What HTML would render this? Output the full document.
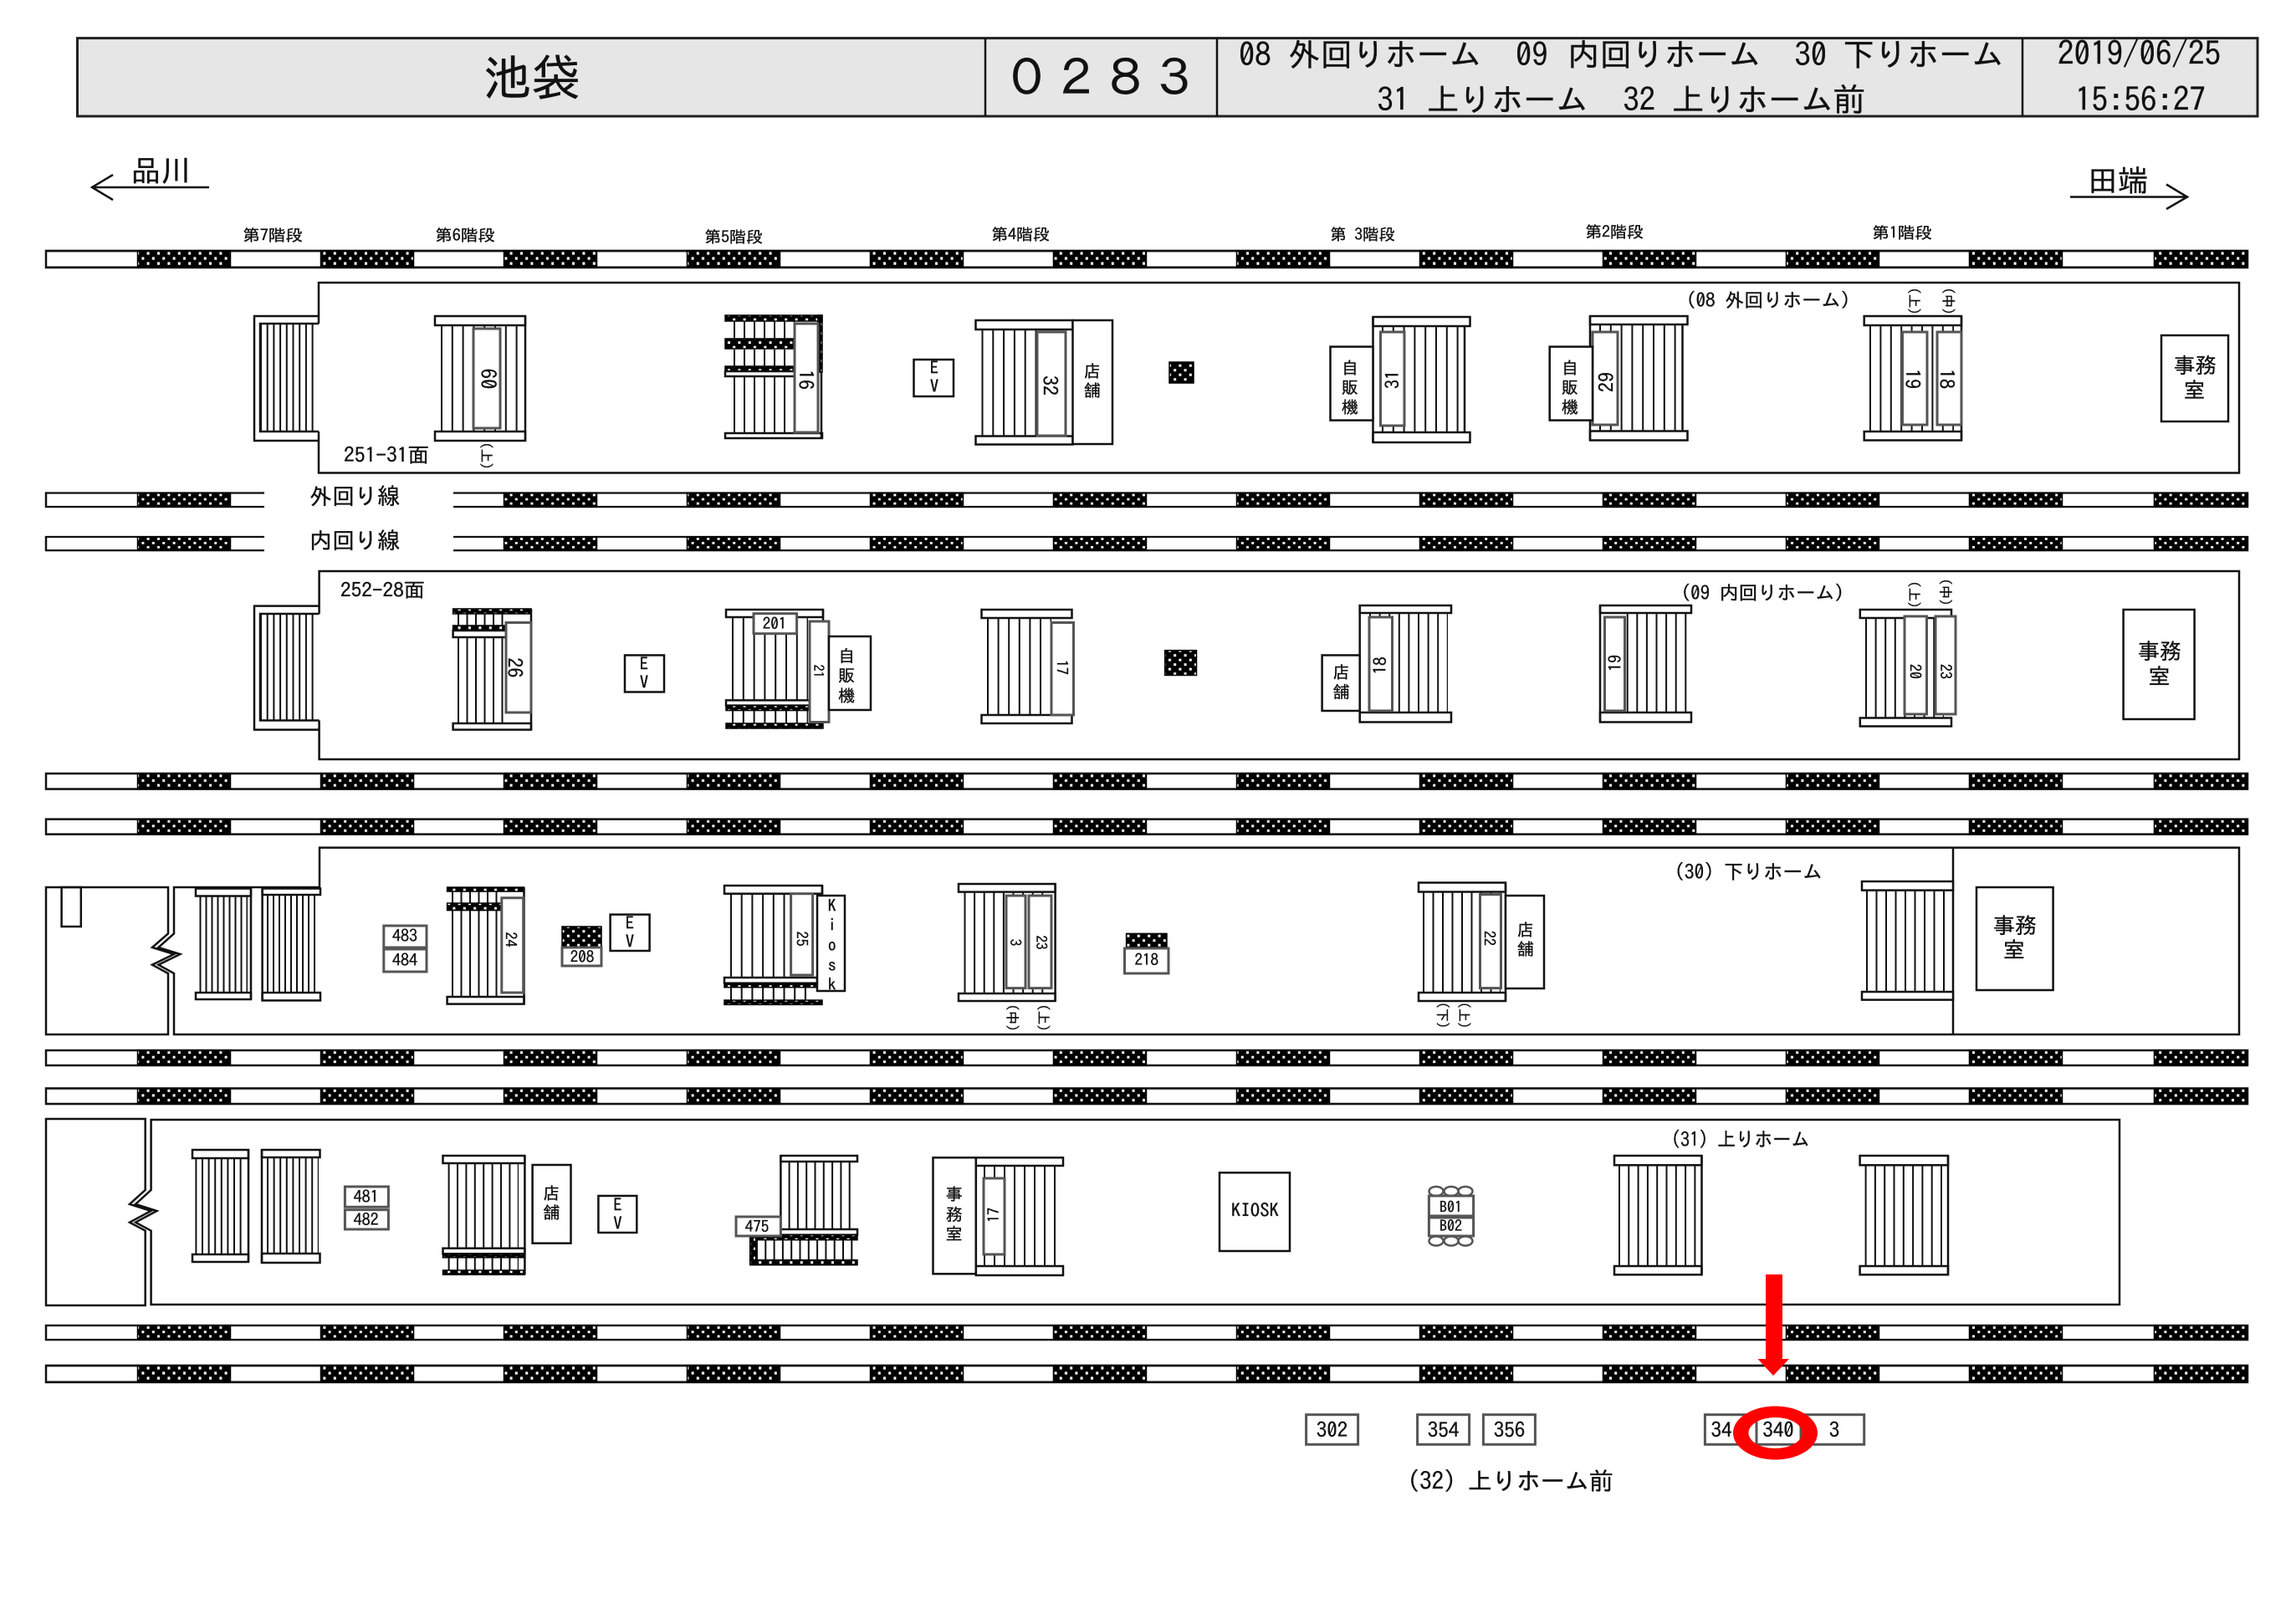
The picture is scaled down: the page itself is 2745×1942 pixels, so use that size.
<!DOCTYPE html>
<html lang="ja"><head><meta charset="utf-8"><title>池袋</title>
<style>
html,body{margin:0;padding:0;background:#fff}
svg{display:block}
text{font-family:"IPAGothic","Liberation Sans","Noto Sans CJK JP",sans-serif;fill:#111;stroke:#111;stroke-width:.35}
.m{text-anchor:middle;dominant-baseline:central}
.l{fill:none;stroke:#111;stroke-width:2.5}
.w{fill:#fff;stroke:#111;stroke-width:2.5}
.g{fill:#fff;stroke:#555;stroke-width:3}
.d{fill:url(#ck);stroke:#000;stroke-width:1.5}
.t{fill:none;stroke:#111}
</style></head><body>
<svg xmlns="http://www.w3.org/2000/svg" width="2745" height="1942" viewBox="0 0 2745 1942">
<defs>
<pattern id="ck" width="12.4" height="11" patternUnits="userSpaceOnUse">
<rect width="12.4" height="11" fill="#000"/><rect x="2" y="1.2" width="3" height="3" fill="#fff"/><rect x="8.2" y="6.7" width="3" height="3" fill="#fff"/>
</pattern>
<g id="rail">
<rect x="55" y="0" width="2632" height="18" class="w"/>
<rect class="d" x="164.5" y="0" width="111" height="18"/><rect class="d" x="383.5" y="0" width="111" height="18"/><rect class="d" x="602.5" y="0" width="111" height="18"/><rect class="d" x="821.5" y="0" width="111" height="18"/><rect class="d" x="1040.5" y="0" width="111" height="18"/><rect class="d" x="1259.5" y="0" width="111" height="18"/><rect class="d" x="1478.5" y="0" width="111" height="18"/><rect class="d" x="1697.5" y="0" width="111" height="18"/><rect class="d" x="1916.5" y="0" width="111" height="18"/><rect class="d" x="2135.5" y="0" width="111" height="18"/><rect class="d" x="2354.5" y="0" width="111" height="18"/><rect class="d" x="2575.5" y="0" width="111.5" height="18"/>
</g>
</defs>
<rect width="2745" height="1942" fill="#fff"/>

<!-- header -->
<rect x="92.5" y="45.6" width="2606.5" height="93.4" fill="#e6e6e6" stroke="#222" stroke-width="3"/>
<path class="l" d="M1178 45.6V139M1455 45.6V139M2418 45.6V139"/>
<text x="636" y="92" class="m" font-size="58">池袋</text>
<text x="1316" y="93" class="m" font-size="59">０２８３</text>
<text x="1481" y="79" font-size="38.5">08</text><text x="1540" y="79" font-size="38.5">外回りホーム</text>
<text x="1812" y="79" font-size="38.5">09</text><text x="1874" y="79" font-size="38.5">内回りホーム</text>
<text x="2145.5" y="79" font-size="38.5">30</text><text x="2203" y="79" font-size="38.5">下りホーム</text>
<text x="1646.5" y="133" font-size="38.5">31</text><text x="1706" y="133" font-size="38.5">上りホーム</text>
<text x="1940.5" y="133" font-size="38.5">32</text><text x="1999" y="133" font-size="38.5">上りホーム前</text>
<text x="2460" y="78" font-size="39">2019/06/25</text>
<text x="2481" y="133" font-size="39">15:56:27</text>

<!-- direction -->
<text x="156.5" y="217" font-size="36">品川</text>
<path class="l" d="M250 224H110M135 209L110 224L135 239"/>
<text x="2496" y="229" font-size="36">田端</text>
<path class="l" d="M2475 235.5H2615M2590 220.5L2615 235.5L2590 250"/>

<!-- stair captions -->
<g font-size="19">
<text x="290" y="288" textLength="72" lengthAdjust="spacingAndGlyphs">第7階段</text><text x="520" y="288" textLength="72" lengthAdjust="spacingAndGlyphs">第6階段</text><text x="842" y="290" textLength="70" lengthAdjust="spacingAndGlyphs">第5階段</text>
<text x="1185" y="287" textLength="70" lengthAdjust="spacingAndGlyphs">第4階段</text><text x="1590" y="287" textLength="78" lengthAdjust="spacingAndGlyphs">第 3階段</text><text x="1895" y="284" textLength="70" lengthAdjust="spacingAndGlyphs">第2階段</text><text x="2238" y="285" textLength="72" lengthAdjust="spacingAndGlyphs">第1階段</text>
</g>

<!-- rails -->
<use href="#rail" transform="translate(0 300) scale(1 1.1)"/>
<use href="#rail" transform="translate(0 589.5) scale(1 .92)"/>
<use href="#rail" transform="translate(0 642) scale(1 .9)"/>
<rect x="316" y="580" width="226" height="85" fill="#fff"/>
<use href="#rail" transform="translate(0 925) scale(1 1.03)"/>
<use href="#rail" transform="translate(0 979.6)"/>
<use href="#rail" transform="translate(0 1256)"/>
<use href="#rail" transform="translate(0 1301.5) scale(1 1.03)"/>
<use href="#rail" transform="translate(0 1585) scale(1 .95)"/>
<use href="#rail" transform="translate(0 1633) scale(1 1.1)"/>
<text x="370" y="603" font-size="27">外回り線</text>
<text x="370" y="656" font-size="27">内回り線</text>

<!-- PLATFORM 1 -->
<path class="l" stroke-width="3" d="M381 387V338H2677V565.5H381V516"/>
<path class="l" d="M381 378H304V527H381M381 387H311V516H381"/>
<path class="t" d="M311 451.5H378" stroke-width="129" stroke-dasharray="2 5.7"/>
<text x="411" y="553" font-size="25" textLength="102" lengthAdjust="spacingAndGlyphs">251-31面</text>
<text x="2016" y="367" font-size="23" textLength="196" lengthAdjust="spacingAndGlyphs">(08 外回りホーム)</text>
<!-- 60 -->
<path class="t" d="M527 452.5H619" stroke-width="127" stroke-dasharray="2 10.8"/>
<rect class="w" x="520" y="378" width="108" height="11"/><rect class="w" x="520" y="516" width="108" height="11"/>
<path class="l" d="M628 378V527"/>
<rect class="g" x="566" y="393" width="32" height="119"/>
<text class="m" transform="translate(583 453) rotate(90)" font-size="25">60</text>
<text class="m" transform="translate(582 545) rotate(90)" font-size="16.5">(上)</text>
<!-- 16 -->
<path class="t" d="M877 394.5H950" stroke-width="23" stroke-dasharray="2 10"/>
<path class="t" d="M877 428.5H950" stroke-width="21" stroke-dasharray="2 10"/>
<path class="t" d="M877 484H950" stroke-width="68" stroke-dasharray="2 10"/>
<rect class="d" x="867" y="377" width="116" height="7"/><rect class="d" x="867" y="405" width="83" height="12"/><rect class="d" x="867" y="438" width="83" height="7"/>
<rect class="w" x="867" y="444" width="83" height="6"/><rect class="w" x="867" y="518" width="116" height="6"/>
<rect class="d" x="978" y="377" width="5" height="68"/><path class="l" d="M982 445V524"/>
<rect class="g" x="950" y="387" width="28" height="130"/>
<text class="m" transform="translate(964 454) rotate(90)" font-size="24">16</text>
<!-- EV -->
<rect class="w" x="1092.5" y="430" width="47.5" height="44"/>
<text class="m" x="1117" y="440" font-size="21">E</text><text class="m" x="1117" y="462" font-size="21">V</text>
<!-- 32 -->
<path class="t" d="M1173.5 458H1240" stroke-width="127" stroke-dasharray="2 10.8"/>
<rect class="w" x="1166.5" y="383" width="116" height="11"/><rect class="w" x="1166.5" y="521.5" width="116" height="10"/>
<rect class="g" x="1240" y="397" width="34" height="124"/>
<text class="m" transform="translate(1256 461) rotate(90)" font-size="24">32</text>
<rect class="w" x="1282.5" y="383" width="47.5" height="148"/>
<text class="m" x="1306" y="444" font-size="20">店</text><text class="m" x="1306" y="467" font-size="20">舗</text>
<rect class="d" x="1398" y="433" width="29" height="25"/>
<!-- 31 -->
<path class="t" d="M1652 453.5H1751" stroke-width="127" stroke-dasharray="2 10.8"/>
<rect class="w" x="1641.5" y="379" width="116" height="11"/><rect class="w" x="1641.5" y="517" width="116" height="12"/>
<path class="l" d="M1641.5 379V529M1751 390V517"/>
<rect class="g" x="1650.5" y="397" width="28.5" height="112"/>
<text class="m" transform="translate(1664.5 454) rotate(-90)" font-size="22">31</text>
<rect class="w" x="1590.5" y="414.6" width="51" height="88"/>
<text class="m" x="1614" y="440" font-size="20">自</text><text class="m" x="1614" y="463.5" font-size="20">販</text><text class="m" x="1614" y="487" font-size="20">機</text>
<!-- 29 -->
<path class="t" d="M1912 452H2011.5" stroke-width="127" stroke-dasharray="2 10.8"/>
<rect class="w" x="1901" y="378" width="116.5" height="10"/><rect class="w" x="1901" y="515.5" width="116.5" height="11"/>
<path class="l" d="M1901 378V526.5M2011.5 388V515.5"/>
<rect class="g" x="1904" y="397" width="30" height="111"/>
<text class="m" transform="translate(1920 457) rotate(-90)" font-size="24">29</text>
<rect class="w" x="1852.7" y="414.6" width="51.3" height="88"/>
<text class="m" x="1877" y="440" font-size="20">自</text><text class="m" x="1877" y="463.5" font-size="20">販</text><text class="m" x="1877" y="487" font-size="20">機</text>
<!-- 19 18 -->
<path class="t" d="M2235 452.5H2336" stroke-width="127" stroke-dasharray="2 10.4"/>
<rect class="w" x="2228.7" y="378" width="116.3" height="11"/><rect class="w" x="2228.7" y="516" width="116.3" height="10.5"/>
<path class="l" d="M2345 378V526.5"/>
<rect class="g" x="2274.5" y="397" width="29.5" height="111"/><rect class="g" x="2316" y="397" width="29" height="111"/>
<text class="m" transform="translate(2287 453) rotate(90)" font-size="24">19</text>
<text class="m" transform="translate(2328 453) rotate(90)" font-size="24">18</text>
<text class="m" transform="translate(2289 360) rotate(90)" font-size="16.5">(上)</text>
<text class="m" transform="translate(2330 360) rotate(90)" font-size="16.5">(中)</text>
<rect class="w" x="2584" y="401" width="80" height="103"/>
<text x="2599" y="446" font-size="25.5">事務</text><text class="m" x="2623.6" y="467" font-size="25.5">室</text>

<!-- PLATFORM 2 -->
<path class="l" stroke-width="3" d="M381.6 734V683H2677V908H381.6V861.5"/>
<path class="l" d="M381.6 724.6H304V872.6H381.6M381.6 734H311V861.5H381.6"/>
<path class="t" d="M311 797.7H379" stroke-width="127.5" stroke-dasharray="2 5.7"/>
<text x="407" y="714" font-size="24" textLength="101" lengthAdjust="spacingAndGlyphs">252-28面</text>
<text x="2009.7" y="717" font-size="23" textLength="195" lengthAdjust="spacingAndGlyphs">(09 内回りホーム)</text>
<!-- 26 -->
<path class="t" d="M547 741H605" stroke-width="16" stroke-dasharray="2 8.5"/>
<path class="t" d="M547 813.5H605" stroke-width="103" stroke-dasharray="2 8.5"/>
<rect class="d" x="541.6" y="728" width="93.4" height="6"/><rect class="d" x="541.6" y="748" width="64" height="6"/>
<rect class="w" x="541.6" y="754" width="64" height="8"/><rect class="w" x="541.6" y="865" width="93.4" height="7.6"/>
<path class="l" d="M635 728V872.6"/>
<rect class="g" x="605" y="744.5" width="30" height="107.5"/>
<text class="m" transform="translate(616 798.4) rotate(90)" font-size="24">26</text>
<rect class="w" x="747" y="783.5" width="47" height="44"/>
<text class="m" x="770" y="794" font-size="21">E</text><text class="m" x="770" y="816" font-size="21">V</text>
<!-- 21 -->
<path class="t" d="M875 787.7H966" stroke-width="99.4" stroke-dasharray="2 10.8"/>
<path class="t" d="M875 857.5H966" stroke-width="16" stroke-dasharray="2 10.8"/>
<rect class="w" x="868" y="729" width="116" height="9"/><path class="l" d="M984 729V745"/>
<rect class="w" x="868" y="837.4" width="100" height="6.2"/>
<rect class="d" x="868" y="843.6" width="100" height="6"/><rect class="d" x="868" y="865" width="116" height="6"/>
<rect class="g" x="901" y="733.7" width="51.6" height="24"/>
<text class="m" x="926" y="746" font-size="19">201</text>
<rect class="g" x="968" y="743" width="23" height="120.5"/>
<text class="m" transform="translate(978.6 802.6) rotate(90)" font-size="16">21</text>
<rect class="w" x="991" y="761" width="50" height="88"/>
<text class="m" x="1012.3" y="784.7" font-size="20">自</text><text class="m" x="1012.3" y="808" font-size="20">販</text><text class="m" x="1012.3" y="832" font-size="20">機</text>
<!-- 17 -->
<path class="t" d="M1180 797H1257" stroke-width="116" stroke-dasharray="2 10.6"/>
<rect class="w" x="1173.5" y="729" width="108" height="10"/><rect class="w" x="1173.5" y="855" width="108" height="10"/>
<rect class="g" x="1257" y="744.5" width="26.5" height="110.5"/>
<text class="m" transform="translate(1269 798) rotate(90)" font-size="18">17</text>
<rect class="d" x="1392.7" y="777.7" width="37.8" height="29.8"/>
<!-- 18 -->
<path class="t" d="M1637 792.5H1731" stroke-width="119" stroke-dasharray="2 9.6"/>
<rect class="w" x="1625.7" y="724" width="109.3" height="9"/><rect class="w" x="1625.7" y="852" width="109.3" height="11.5"/>
<path class="l" d="M1625.7 724V863.5"/>
<rect class="g" x="1637" y="738" width="27.5" height="112"/>
<text class="m" transform="translate(1650 796) rotate(-90)" font-size="21">18</text>
<rect class="w" x="1580.6" y="783.5" width="45.1" height="66.5"/>
<text class="m" x="1603.7" y="804" font-size="20">店</text><text class="m" x="1603.7" y="827.5" font-size="20">舗</text>
<!-- 19 -->
<path class="t" d="M1944.7 792.5H2018" stroke-width="119" stroke-dasharray="2 9.6"/>
<rect class="w" x="1913" y="724" width="109" height="9"/><rect class="w" x="1913" y="852" width="109" height="11.5"/>
<path class="l" d="M1913 724V863.5"/>
<rect class="g" x="1918.5" y="738" width="24" height="112"/>
<text class="m" transform="translate(1931 793) rotate(-90)" font-size="20">19</text>
<!-- 20 23 -->
<path class="t" d="M2230 798.7H2324" stroke-width="119.5" stroke-dasharray="2 9.6"/>
<rect class="w" x="2223.8" y="729" width="109.2" height="10"/><rect class="w" x="2223.8" y="858.5" width="109.2" height="10"/>
<rect class="g" x="2277" y="737" width="26.5" height="117"/><rect class="g" x="2314" y="737" width="24" height="117"/>
<text class="m" transform="translate(2289 803) rotate(90)" font-size="18">20</text>
<text class="m" transform="translate(2325.6 803) rotate(90)" font-size="18">23</text>
<text class="m" transform="translate(2289 711) rotate(90)" font-size="16.5">(上)</text>
<text class="m" transform="translate(2326.6 708) rotate(90)" font-size="16.5">(中)</text>
<rect class="w" x="2538.6" y="729" width="85" height="131"/>
<text x="2556" y="788" font-size="26">事務</text><text class="m" x="2581.6" y="809" font-size="26">室</text>

<!-- PLATFORM 3 -->
<path class="l" stroke-width="3" d="M2677 1013.6H382V1061H208V1116.4L189.4 1133L215.4 1141L189.4 1153.7L208 1164V1237H2677Z"/>
<path class="l" d="M2335 1013.6V1237"/>
<path class="l" d="M201 1061H55V1237H201V1164L182 1153.7L208 1141L182 1133L201 1116.4Z"/>
<rect class="l" x="73.6" y="1061" width="23.2" height="47"/>
<!-- left pair -->
<path class="t" d="M238.5 1129.5H296" stroke-width="115.5" stroke-dasharray="2 5"/>
<rect class="w" x="234" y="1062.5" width="66" height="9"/><rect class="w" x="234" y="1187" width="66" height="8"/>
<path class="l" d="M300 1062.5V1195"/>
<path class="t" d="M319 1128.5H380" stroke-width="117" stroke-dasharray="2 5"/>
<rect class="w" x="313.6" y="1062.5" width="69.4" height="7.5"/><rect class="w" x="313.6" y="1187" width="69.4" height="9.4"/>
<path class="l" d="M313.6 1062.5V1196.4"/>
<rect class="g" x="458.8" y="1107" width="51.2" height="26"/><rect class="g" x="458.8" y="1135" width="51.2" height="27"/>
<text class="m" x="484" y="1119" font-size="20">483</text><text class="m" x="484" y="1148" font-size="20">484</text>
<!-- 24 -->
<path class="t" d="M540 1073H600" stroke-width="14" stroke-dasharray="2 8.5"/>
<path class="t" d="M540 1140.3H600" stroke-width="103.5" stroke-dasharray="2 8.5"/>
<rect class="d" x="534.6" y="1061" width="91.9" height="5"/><rect class="d" x="534.6" y="1080" width="65" height="8.6"/>
<rect class="w" x="534.6" y="1192" width="91.9" height="8.6"/>
<path class="l" d="M626.5 1061V1200.6"/>
<rect class="g" x="599.8" y="1073.7" width="25.9" height="113.3"/>
<text class="m" transform="translate(610 1123.5) rotate(90)" font-size="18">24</text>
<!-- 208 -->
<rect class="d" x="672" y="1108" width="47" height="26"/>
<rect class="g" x="672" y="1133" width="47" height="22"/>
<text class="m" x="696" y="1144.5" font-size="19">208</text>
<rect class="w" x="729.6" y="1093.6" width="47" height="43.4"/>
<text class="m" x="753" y="1104" font-size="21">E</text><text class="m" x="753" y="1126" font-size="21">V</text>
<!-- 25 -->
<path class="t" d="M873 1119H946" stroke-width="100" stroke-dasharray="2 10.7"/>
<path class="t" d="M873 1188H970" stroke-width="17" stroke-dasharray="2 10.7"/>
<rect class="w" x="866" y="1059" width="117" height="9.7"/><path class="l" d="M983 1059V1072"/>
<rect class="w" x="866" y="1169" width="111" height="6.7"/>
<rect class="d" x="866" y="1175.7" width="111" height="5"/><rect class="d" x="866" y="1196" width="117" height="5.4"/>
<rect class="g" x="945.6" y="1068.7" width="26" height="97.3"/>
<text class="m" transform="translate(958 1122.6) rotate(90)" font-size="18">25</text>
<rect class="w" x="977" y="1071" width="33" height="114"/>
<g font-size="20"><text class="m" x="994.7" y="1083">K</text><text class="m" x="994.7" y="1106">i</text><text class="m" x="994.7" y="1130">o</text><text class="m" x="994.7" y="1154">s</text><text class="m" x="994.7" y="1177">k</text></g>
<!-- 3 23 -->
<path class="t" d="M1152.5 1127.3H1254" stroke-width="121.4" stroke-dasharray="2 9.6"/>
<rect class="w" x="1146" y="1057" width="115.6" height="9.6"/><rect class="w" x="1146" y="1188" width="115.6" height="9"/>
<path class="l" d="M1261.6 1057V1197"/>
<rect class="g" x="1203" y="1071" width="23" height="110.6"/><rect class="g" x="1230" y="1071" width="27" height="110.6"/>
<text class="m" transform="translate(1213 1127) rotate(90)" font-size="17">3</text>
<text class="m" transform="translate(1244 1127) rotate(90)" font-size="17">23</text>
<text class="m" transform="translate(1211 1217) rotate(90)" font-size="16.5">(中)</text>
<text class="m" transform="translate(1248 1217) rotate(90)" font-size="16.5">(上)</text>
<!-- 218 -->
<rect class="d" x="1346.6" y="1116.4" width="48.4" height="18"/>
<rect class="g" x="1344.5" y="1134" width="52.5" height="30"/>
<text class="m" x="1370.7" y="1148" font-size="19">218</text>
<!-- 22 -->
<path class="t" d="M1701 1126.8H1794" stroke-width="120.4" stroke-dasharray="2 9.5"/>
<rect class="w" x="1696" y="1055.5" width="104" height="11"/><rect class="w" x="1696" y="1187" width="104" height="10"/>
<path class="l" d="M1800 1055.5V1197"/>
<rect class="g" x="1769.5" y="1069.6" width="25" height="112"/>
<text class="m" transform="translate(1780 1122) rotate(90)" font-size="18">22</text>
<rect class="w" x="1800" y="1071" width="46" height="111"/>
<text class="m" x="1824" y="1112" font-size="20">店</text><text class="m" x="1824" y="1135" font-size="20">舗</text>
<text class="m" transform="translate(1725 1214) rotate(90)" font-size="16">(下)</text>
<text class="m" transform="translate(1750.6 1214) rotate(90)" font-size="16">(上)</text>
<text x="2002" y="1051" font-size="24" textLength="176.7" lengthAdjust="spacingAndGlyphs">(30) 下りホーム</text>
<!-- last -->
<path class="t" d="M2231 1125.3H2327" stroke-width="121.4" stroke-dasharray="2 9.5"/>
<rect class="w" x="2226" y="1054" width="109" height="10.6"/><rect class="w" x="2226" y="1186" width="109" height="9.6"/>
<rect class="w" x="2363" y="1061" width="91.6" height="123"/>
<text x="2383" y="1116" font-size="26">事務</text><text class="m" x="2408" y="1136" font-size="26">室</text>

<!-- PLATFORM 4 -->
<path class="l" stroke-width="3" d="M180.6 1339H2534V1560H180.6V1471.7L162 1461.7L187.5 1448L162 1440L180.6 1423Z"/>
<path class="l" d="M173.7 1338H55V1561H173.7V1471.7L155 1461.7L180.5 1448L155 1440L173.7 1423Z"/>
<path class="t" d="M233.4 1442.5H294" stroke-width="115" stroke-dasharray="2 5.6"/>
<rect class="w" x="230" y="1375" width="67" height="10"/><rect class="w" x="230" y="1500" width="67" height="9"/>
<path class="l" d="M297 1375V1509"/>
<path class="t" d="M319 1441.5H381" stroke-width="115" stroke-dasharray="2 5.6"/>
<rect class="w" x="313" y="1375" width="69.5" height="9"/><rect class="w" x="313" y="1499" width="69.5" height="11"/>
<path class="l" d="M313 1375V1510"/>
<rect class="g" x="412.4" y="1419" width="52" height="24.3"/><rect class="g" x="412.4" y="1446.7" width="52" height="23.3"/>
<text class="m" x="437.6" y="1431" font-size="20">481</text><text class="m" x="437.6" y="1458.5" font-size="20">482</text>
<!-- stair with shop -->
<path class="t" d="M535.6 1442H620" stroke-width="101.5" stroke-dasharray="2 8.4"/>
<path class="t" d="M535.6 1511H620" stroke-width="16" stroke-dasharray="2 8.4"/>
<rect class="w" x="529.5" y="1382" width="97.9" height="9"/>
<rect class="w" x="529.5" y="1492.7" width="97.9" height="6.6"/>
<rect class="d" x="529.5" y="1499.3" width="97.9" height="4.5"/><rect class="d" x="529.5" y="1519" width="97.9" height="5.3"/>
<path class="l" d="M627.4 1382V1524"/>
<rect class="w" x="636.6" y="1393" width="45.9" height="93.7"/>
<text class="m" x="659.5" y="1427" font-size="20">店</text><text class="m" x="659.5" y="1450" font-size="20">舗</text>
<rect class="w" x="715.4" y="1430" width="45.9" height="44"/>
<text class="m" x="738.5" y="1441" font-size="21">E</text><text class="m" x="738.5" y="1463" font-size="21">V</text>
<!-- 475 -->
<path class="t" d="M942.6 1429.5H1024" stroke-width="81" stroke-dasharray="2 8.3"/>
<path class="t" d="M904 1494.7H1022" stroke-width="24" stroke-dasharray="2 8.3"/>
<rect class="w" x="933.4" y="1382" width="91.6" height="7"/>
<path class="l" d="M933.4 1382V1470"/>
<rect class="w" x="933.4" y="1470" width="91.6" height="6.7"/>
<rect class="d" x="896.7" y="1476.7" width="128.3" height="6"/><rect class="d" x="896.7" y="1506.7" width="128.3" height="6"/><rect class="d" x="896.7" y="1478" width="7" height="34"/>
<rect class="g" x="880" y="1455" width="53.4" height="23"/>
<text class="m" x="905" y="1467" font-size="19">475</text>
<!-- 事務室 17 -->
<rect class="w" x="1115.5" y="1384.3" width="51.3" height="139"/>
<text class="m" x="1140.8" y="1428" font-size="20">事</text><text class="m" x="1140.8" y="1452.7" font-size="20">務</text><text class="m" x="1140.8" y="1475.7" font-size="20">室</text>
<path class="t" d="M1176 1454H1268" stroke-width="120" stroke-dasharray="2 10"/>
<rect class="w" x="1166.8" y="1384.3" width="104.2" height="9.7"/><rect class="w" x="1166.8" y="1514" width="104.2" height="11"/>
<path class="l" d="M1166.8 1384.3V1525"/>
<rect class="g" x="1176" y="1409" width="25" height="91"/>
<text class="m" transform="translate(1188.5 1453) rotate(-90)" font-size="18">17</text>
<!-- KIOSK -->
<rect class="w" x="1458" y="1402.3" width="84" height="93.7"/>
<text class="m" x="1500.5" y="1447" font-size="22" textLength="57" lengthAdjust="spacingAndGlyphs">KIOSK</text>
<!-- B01 B02 -->
<g fill="#fff" stroke="#555" stroke-width="2.5">
<ellipse cx="1717" cy="1424.5" rx="8.5" ry="5.5"/><ellipse cx="1735" cy="1424.5" rx="8.5" ry="5.5"/><ellipse cx="1752" cy="1424.5" rx="8.5" ry="5.5"/>
<ellipse cx="1717" cy="1484" rx="8.5" ry="5.5"/><ellipse cx="1735" cy="1484" rx="8.5" ry="5.5"/><ellipse cx="1752" cy="1484" rx="8.5" ry="5.5"/>
</g>
<rect class="g" x="1708.4" y="1430" width="53.2" height="24"/><rect class="g" x="1708.4" y="1456" width="53.2" height="22"/>
<text class="m" x="1734.5" y="1444" font-size="18">B01</text><text class="m" x="1734.5" y="1466.5" font-size="18">B02</text>
<!-- two stairs -->
<path class="t" d="M1935 1453.6H2028" stroke-width="120.7" stroke-dasharray="2 9.3"/>
<rect class="w" x="1930" y="1382" width="104.5" height="11.3"/><rect class="w" x="1930" y="1514" width="104.5" height="10.3"/>
<path class="l" d="M2034.5 1382V1524.3"/>
<path class="t" d="M2229.6 1453.6H2322" stroke-width="120.7" stroke-dasharray="2 9.3"/>
<rect class="w" x="2223.6" y="1382" width="105.4" height="11.3"/><rect class="w" x="2223.6" y="1514" width="105.4" height="10.3"/>
<path class="l" d="M2329 1382V1524.3"/>
<text x="1998" y="1371" font-size="24" textLength="165.5" lengthAdjust="spacingAndGlyphs">(31) 上りホーム</text>

<!-- bottom boxes -->
<rect class="g" x="1561.6" y="1691.7" width="62" height="35.6"/>
<rect class="g" x="1694.6" y="1691.7" width="62" height="35.6"/>
<rect class="g" x="1773.4" y="1691.7" width="62" height="35.6"/>
<rect class="g" x="2038.4" y="1691.7" width="62" height="35.6"/>
<rect class="g" x="2100" y="1691.7" width="53" height="35.6"/>
<rect class="g" x="2156.7" y="1691.7" width="72" height="35.6"/>
<g font-size="25">
<text class="m" x="1592.5" y="1710.7">302</text><text class="m" x="1725.5" y="1710.7">354</text><text class="m" x="1804.5" y="1710.7">356</text>
<text class="m" x="2058" y="1710.7">34</text><text class="m" x="2126" y="1710.7">340</text><text class="m" x="2193" y="1710.7">3</text>
</g>
<text x="1682.7" y="1781.5" font-size="29" textLength="246" lengthAdjust="spacingAndGlyphs">(32) 上りホーム前</text>

<!-- red markers -->
<polygon fill="#f00" points="2111,1524 2131,1524 2131,1625 2139,1625 2120,1645 2101.5,1625 2111,1625"/>
<path fill="#f00" fill-rule="evenodd" d="M2072 1713.5a50.5 32 0 1 0 101 0a50.5 32 0 1 0 -101 0ZM2090.5 1713.5a32 18.5 0 1 0 64 0a32 18.5 0 1 0 -64 0Z"/>
</svg>
</body></html>
